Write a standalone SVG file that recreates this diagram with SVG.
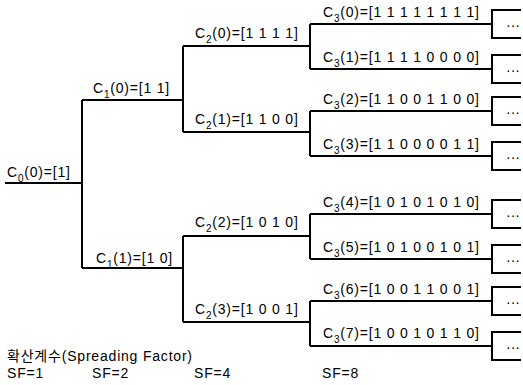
<svg xmlns="http://www.w3.org/2000/svg" width="523" height="385" viewBox="0 0 523 385">
<style>
  text { font-family: "Liberation Sans", "Noto Sans CJK KR", Arial, sans-serif; font-size: 14px; fill: #000; letter-spacing: 0.8px; }
  .sub { font-size: 10px; }
  .wire { fill: none; stroke: #000; stroke-width: 2; }
  .dots { letter-spacing: 0; }
</style>
<rect width="523" height="385" fill="#fff"/>
<g id="connectors" class="wire">
  <path d="M5,183 H82 M82,100 V268 M82,100 H183 M82,268 H183"/>
  <path d="M183,46 V132 M183,46 H310 M183,132 H310 M183,236 V322 M183,236 H310 M183,322 H310"/>
  <path d="M310,24 V69 M310,111 V156 M310,214 V259 M310,301 V346"/>
  <path d="M310,24 H492 M310,69 H492 M310,111 H492 M310,156 H492 M310,214 H492 M310,259 H492 M310,301 H492 M310,346 H492"/>
</g>
<g id="continuations">
  <path class="wire" d="M521,10 H492 V38 H521 M521,55 H492 V83 H521 M521,97 H492 V125 H521 M521,142 H492 V170 H521 M521,200 H492 V228 H521 M521,245 H492 V273 H521 M521,287 H492 V315 H521 M521,332 H492 V360 H521"/>
  <text class="dots" x="506" y="30">···</text>
  <text class="dots" x="506" y="75">···</text>
  <text class="dots" x="506" y="117">···</text>
  <text class="dots" x="506" y="162">···</text>
  <text class="dots" x="506" y="220">···</text>
  <text class="dots" x="506" y="265">···</text>
  <text class="dots" x="506" y="307">···</text>
  <text class="dots" x="506" y="352">···</text>
</g>
<g id="c0-0"><text x="7" y="177">C<tspan class="sub" dy="5">0</tspan><tspan dy="-5">(0)=[1]</tspan></text></g>
<g id="c1-0"><text x="93" y="93">C<tspan class="sub" dy="5">1</tspan><tspan dy="-5">(0)=[1 1]</tspan></text></g>
<g id="c1-1"><text x="96" y="263">C<tspan class="sub" dy="5">1</tspan><tspan dy="-5">(1)=[1 0]</tspan></text></g>
<g id="c2-0"><text x="195" y="38">C<tspan class="sub" dy="5">2</tspan><tspan dy="-5">(0)=[1 1 1 1]</tspan></text></g>
<g id="c2-1"><text x="195" y="124">C<tspan class="sub" dy="5">2</tspan><tspan dy="-5">(1)=[1 1 0 0]</tspan></text></g>
<g id="c2-2"><text x="195" y="227">C<tspan class="sub" dy="5">2</tspan><tspan dy="-5">(2)=[1 0 1 0]</tspan></text></g>
<g id="c2-3"><text x="195" y="314">C<tspan class="sub" dy="5">2</tspan><tspan dy="-5">(3)=[1 0 0 1]</tspan></text></g>
<g id="c3-0"><text x="323" y="17">C<tspan class="sub" dy="5">3</tspan><tspan dy="-5">(0)=[1 1 1 1 1 1 1 1]</tspan></text></g>
<g id="c3-1"><text x="323" y="62">C<tspan class="sub" dy="5">3</tspan><tspan dy="-5">(1)=[1 1 1 1 0 0 0 0]</tspan></text></g>
<g id="c3-2"><text x="323" y="104">C<tspan class="sub" dy="5">3</tspan><tspan dy="-5">(2)=[1 1 0 0 1 1 0 0]</tspan></text></g>
<g id="c3-3"><text x="323" y="149">C<tspan class="sub" dy="5">3</tspan><tspan dy="-5">(3)=[1 1 0 0 0 0 1 1]</tspan></text></g>
<g id="c3-4"><text x="323" y="207">C<tspan class="sub" dy="5">3</tspan><tspan dy="-5">(4)=[1 0 1 0 1 0 1 0]</tspan></text></g>
<g id="c3-5"><text x="323" y="252">C<tspan class="sub" dy="5">3</tspan><tspan dy="-5">(5)=[1 0 1 0 0 1 0 1]</tspan></text></g>
<g id="c3-6"><text x="323" y="294">C<tspan class="sub" dy="5">3</tspan><tspan dy="-5">(6)=[1 0 0 1 1 0 0 1]</tspan></text></g>
<g id="c3-7"><text x="323" y="338">C<tspan class="sub" dy="5">3</tspan><tspan dy="-5">(7)=[1 0 0 1 0 1 1 0]</tspan></text></g>
<g id="legend">
  <text x="7" y="361">확산계수(Spreading Factor)</text>
  <text x="7" y="378">SF=1</text>
  <text x="92" y="378">SF=2</text>
  <text x="194" y="378">SF=4</text>
  <text x="322" y="378">SF=8</text>
</g>
</svg>
